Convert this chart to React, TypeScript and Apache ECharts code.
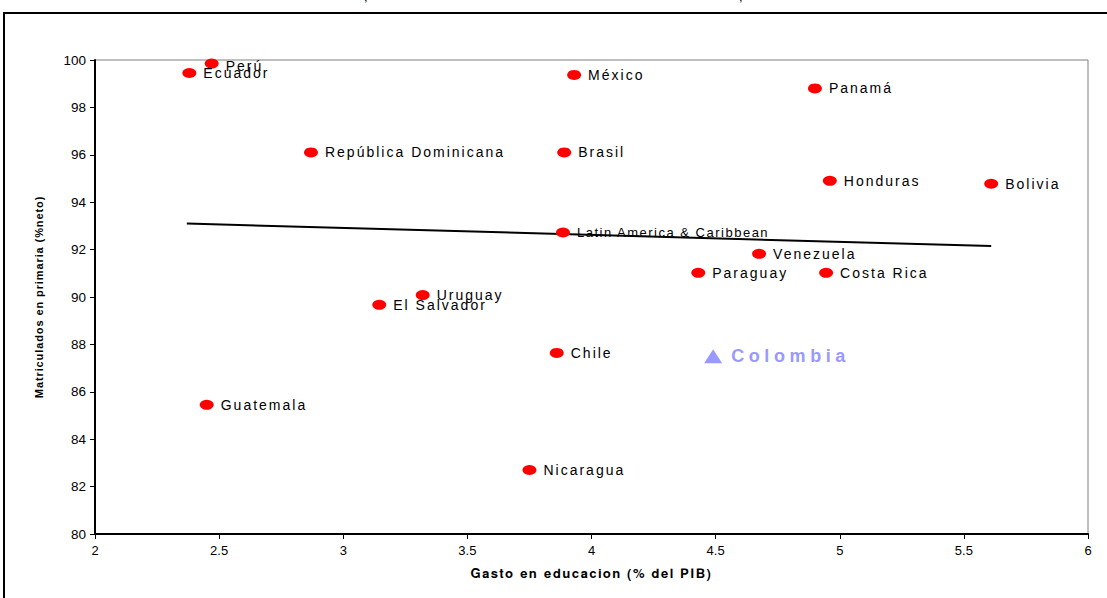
import React, { useEffect, useRef } from "react";
import * as echarts from "echarts";

const countries = [
  "Perú", "Ecuador", "México", "Panamá", "República Dominicana", "Brasil",
  "Honduras", "Bolivia", "Venezuela", "Paraguay", "Costa Rica", "Uruguay",
  "El Salvador", "Chile", "Guatemala", "Nicaragua",
];
const gasto = [2.47, 2.38, 3.93, 4.9, 2.87, 3.89, 4.96, 5.61, 4.675, 4.43, 4.945, 3.32, 3.145, 3.86, 2.45, 3.75];
const matric = [99.85, 99.45, 99.37, 98.8, 96.1, 96.1, 94.9, 94.78, 91.82, 91.02, 91.02, 90.08, 89.67, 87.64, 85.45, 82.7];

const regionName = "Latin America & Caribbean";
const regionGasto = [3.885];
const regionMatric = [92.72];

const colombiaName = "Colombia";
const colombiaGasto = [4.49];
const colombiaMatric = [87.5];

const trendGasto = [2.37, 5.61];
const trendMatric = [93.1, 92.15];

const xAxisName = "Gasto en educacion (% del PIB)";
const yAxisName = "Matriculados en primaria (%neto)";

export default function App() {
  const ref = useRef<HTMLDivElement>(null);
  useEffect(() => {
    if (!ref.current) return;
    const chart = echarts.init(ref.current, undefined, { renderer: "svg" });
    chart.setOption({
      animation: false,
      backgroundColor: "#ffffff",
      grid: {
        left: 95, right: 19, top: 60, bottom: 64,
        show: true, borderColor: "#808080", borderWidth: 1,
      },
      xAxis: {
        type: "value", min: 2, max: 6, interval: 0.5,
        name: xAxisName, nameLocation: "middle", nameGap: 34,
        nameTextStyle: { fontFamily: "FreeSans, Arial", fontWeight: "bold", fontSize: 13, color: "#000" },
        axisLine: { show: true, lineStyle: { color: "#000", width: 2 } },
        axisTick: { show: true, inside: false, length: 5, lineStyle: { color: "#000" } },
        axisLabel: { color: "#000", fontFamily: "Arial", fontSize: 13, margin: 10 },
        splitLine: { show: false },
      },
      yAxis: {
        type: "value", min: 80, max: 100, interval: 2,
        name: yAxisName, nameLocation: "middle", nameGap: 51, nameRotate: 90,
        nameTextStyle: { fontFamily: "Nimbus Sans, Arial", fontWeight: "bold", fontSize: 11, color: "#000" },
        axisLine: { show: true, lineStyle: { color: "#000", width: 2 } },
        axisTick: { show: true, inside: false, length: 5, lineStyle: { color: "#000" } },
        axisLabel: { color: "#000", fontFamily: "Arial", fontSize: 13.5, margin: 9 },
        splitLine: { show: false },
      },
      series: [
        {
          type: "line",
          data: trendGasto.map((x, i) => [x, trendMatric[i]]),
          showSymbol: false, symbol: "none",
          lineStyle: { color: "#000", width: 2 },
          z: 1, silent: true,
        },
        {
          type: "scatter",
          data: countries.map((c, i) => ({
            name: c,
            value: [gasto[i], matric[i]],
            label: c === "Perú" ? { offset: [0, 2] } : undefined,
          })),
          symbol: "circle",
          symbolSize: [14, 10],
          itemStyle: { color: "#ff0000", opacity: 1 },
          label: {
            show: true, position: "right", distance: 7,
            formatter: "{b}", color: "#000",
            fontFamily: "Liberation Sans", fontSize: 14,
          },
          z: 3,
        },
        {
          type: "scatter",
          data: regionGasto.map((x, i) => ({ name: regionName, value: [x, regionMatric[i]] })),
          symbol: "circle",
          symbolSize: [14, 10],
          itemStyle: { color: "#ff0000", opacity: 1 },
          label: {
            show: true, position: "right", distance: 7,
            formatter: "{b}", color: "#000",
            fontFamily: "Arimo, Liberation Sans", fontSize: 13,
          },
          z: 3,
        },
        {
          type: "scatter",
          data: colombiaGasto.map((x, i) => ({ name: colombiaName, value: [x, colombiaMatric[i]] })),
          symbol: "triangle",
          symbolSize: [18, 14],
          itemStyle: { color: "#9999ff", opacity: 1 },
          label: {
            show: true, position: "right", distance: 9,
            formatter: "{b}", color: "#9999ff",
            fontFamily: "Helvetica, Liberation Sans", fontWeight: "bold", fontSize: 18,
          },
          z: 3,
        },
      ],
      graphic: [
        {
          type: "rect", silent: true,
          shape: { x: 4, y: 13, width: 1130, height: 620 },
          style: { fill: "none", stroke: "#000", lineWidth: 2 },
        },
        {
          type: "text", x: 364, y: -10, silent: true,
          style: { text: ",", font: "13px Arial", fill: "#000" },
        },
        {
          type: "text", x: 739, y: -10, silent: true,
          style: { text: ",", font: "13px Arial", fill: "#000" },
        },
      ],
    });
    return () => chart.dispose();
  }, []);
  return (
    <>
      <style>{`
        .chart-box text[style*="Liberation Sans"] { letter-spacing: 2px; }
        .chart-box text[style*="Arimo"] { letter-spacing: 1.5px; }
        .chart-box text[style*="Helvetica"] { letter-spacing: 4.6px; }
        .chart-box text[style*="FreeSans"] { letter-spacing: 1.6px; }
        .chart-box text[style*="Nimbus Sans"] { letter-spacing: 0.9px; }
      `}</style>
      <div
        ref={ref}
        className="chart-box"
        style={{ position: "fixed", left: 0, top: 0, width: 1107, height: 598, background: "#fff" }}
      />
    </>
  );
}
